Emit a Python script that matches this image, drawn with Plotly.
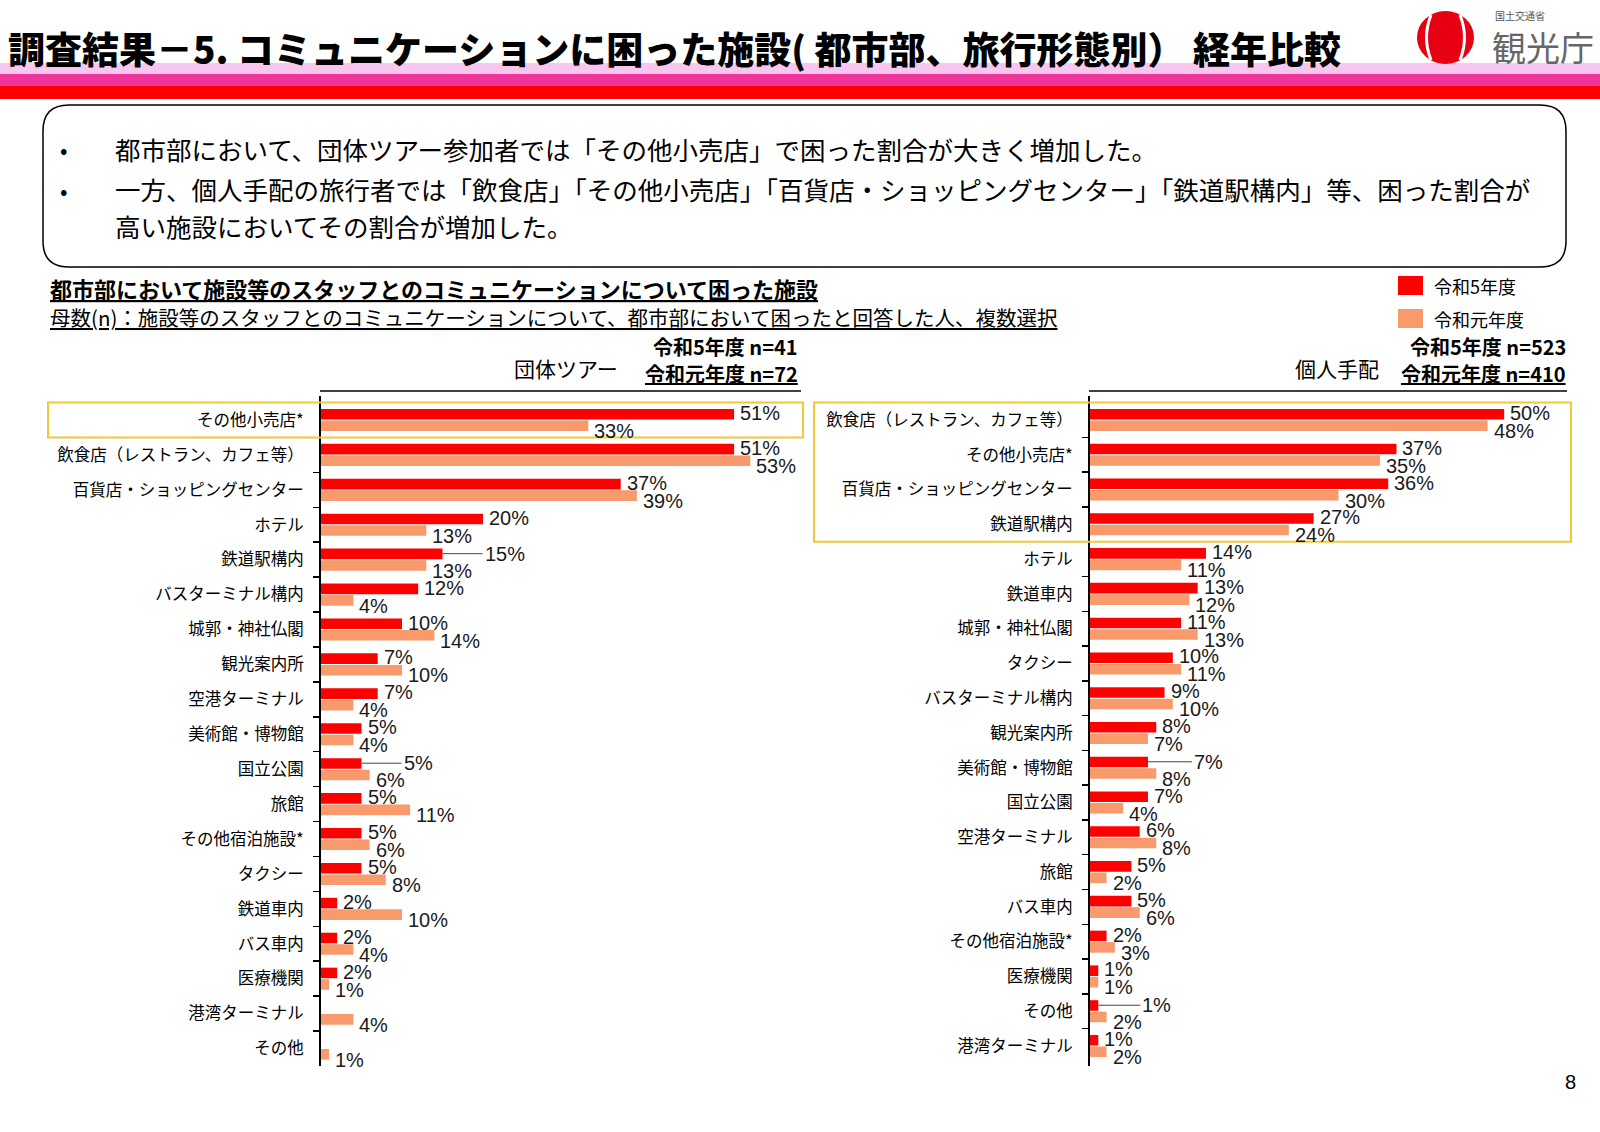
import plotly.graph_objects as go

W, H = 1600, 1132

# ---------------- data ----------------
series_names = ["令和5年度", "令和元年度"]

group_categories = [
    "その他小売店*", "飲食店（レストラン、カフェ等）", "百貨店・ショッピングセンター", "ホテル",
    "鉄道駅構内", "バスターミナル構内", "城郭・神社仏閣", "観光案内所", "空港ターミナル",
    "美術館・博物館", "国立公園", "旅館", "その他宿泊施設*", "タクシー", "鉄道車内",
    "バス車内", "医療機関", "港湾ターミナル", "その他",
]
group_r5 = [51, 51, 37, 20, 15, 12, 10, 7, 7, 5, 5, 5, 5, 5, 2, 2, 2, None, None]
group_r1 = [33, 53, 39, 13, 13, 4, 14, 10, 4, 4, 6, 11, 6, 8, 10, 4, 1, 4, 1]

indiv_categories = [
    "飲食店（レストラン、カフェ等）", "その他小売店*", "百貨店・ショッピングセンター", "鉄道駅構内",
    "ホテル", "鉄道車内", "城郭・神社仏閣", "タクシー", "バスターミナル構内", "観光案内所",
    "美術館・博物館", "国立公園", "空港ターミナル", "旅館", "バス車内", "その他宿泊施設*",
    "医療機関", "その他", "港湾ターミナル",
]
indiv_r5 = [50, 37, 36, 27, 14, 13, 11, 10, 9, 8, 7, 7, 6, 5, 5, 2, 1, 1, 1]
indiv_r1 = [48, 35, 30, 24, 11, 12, 13, 11, 10, 7, 8, 4, 8, 2, 6, 3, 1, 2, 2]

title_text = "調査結果－5. コミュニケーションに困った施設( 都市部、旅行形態別） 経年比較"
bullets = [
    "都市部において、団体ツアー参加者では「その他小売店」で困った割合が大きく増加した。",
    "一方、個人手配の旅行者では「飲食店」「その他小売店」「百貨店・ショッピングセンター」「鉄道駅構内」等、困った割合が",
    "高い施設においてその割合が増加した。",
]
chart_title = "都市部において施設等のスタッフとのコミュニケーションについて困った施設"
chart_subtitle = "母数(n)：施設等のスタッフとのコミュニケーションについて、都市部において困ったと回答した人、複数選択"
group_header = ("団体ツアー", "令和5年度 n=41", "令和元年度 n=72")
indiv_header = ("個人手配", "令和5年度 n=523", "令和元年度 n=410")

# ---------------- style ----------------
COLORS = ["#FF0000", "#F89A6B"]
JP = "Noto Sans CJK JP, sans-serif"
NUM = "Liberation Sans, Arial, sans-serif"
LABEL_YSHIFT = [7, -11]          # red label a bit up, orange label a bit down
# labels drawn with a leader line: (panel, series, category index) -> pixel offset
LEADERS = {("g", 0, 4): 40, ("g", 0, 10): 40, ("i", 0, 10): 44, ("i", 0, 17): 42}


def px(x):
    return x / W


def py(y):
    return 1 - y / H


fig = go.Figure()
panels = [
    ("g", group_categories, [group_r5, group_r1], "x", "y"),
    ("i", indiv_categories, [indiv_r5, indiv_r1], "x2", "y2"),
]
for key, cats, series, xa, ya in panels:
    for vals, name, color in zip(series, series_names, COLORS):
        fig.add_trace(go.Bar(
            y=cats, x=vals, orientation="h", name=name,
            marker=dict(color=color, line=dict(width=0)),
            xaxis=xa, yaxis=ya, showlegend=False, hoverinfo="skip",
        ))

yax = dict(
    type="category", autorange="reversed", showline=True, linecolor="black", linewidth=2,
    ticks="outside", tickson="boundaries", ticklen=6, tickwidth=1.5, tickcolor="black",
    tickfont=dict(family=JP, size=16.5, color="black"), ticklabelstandoff=12,
    showgrid=False, zeroline=False, fixedrange=True,
)

fig.update_layout(
    width=W, height=H, margin=dict(l=0, r=0, t=0, b=0),
    paper_bgcolor="white", plot_bgcolor="rgba(0,0,0,0)",
    barmode="group", bargap=0.34, bargroupgap=0.08,
    xaxis=dict(domain=[px(321), px(807)], range=[0, 60], visible=False, anchor="y", fixedrange=True),
    yaxis=dict(domain=[py(1066), py(396)], anchor="x", **yax),
    xaxis2=dict(domain=[px(1090), px(1587)], range=[0, 60], visible=False, anchor="y2", fixedrange=True),
    yaxis2=dict(domain=[py(1066), py(396)], anchor="x2", **yax),
)

shapes = []
# header bands
for y0, y1, c in [(63, 74, "#F8C6EE"), (74, 86, "#F0359A"), (86, 99, "#FF0000")]:
    shapes.append(dict(type="rect", xref="paper", yref="paper", x0=0, x1=1, y0=py(y1), y1=py(y0),
                       fillcolor=c, line=dict(width=0), layer="below"))


def rrect(x0, y0, x1, y1, r):
    pts = [
        ("M", [(x0 + r, y0)]), ("L", [(x1 - r, y0)]), ("Q", [(x1, y0), (x1, y0 + r)]),
        ("L", [(x1, y1 - r)]), ("Q", [(x1, y1), (x1 - r, y1)]), ("L", [(x0 + r, y1)]),
        ("Q", [(x0, y1), (x0, y1 - r)]), ("L", [(x0, y0 + r)]), ("Q", [(x0, y0), (x0 + r, y0)]),
    ]
    s = ""
    for cmd, ps in pts:
        s += cmd + " " + " ".join(f"{px(a):.5f},{py(b):.5f}" for a, b in ps) + " "
    return s + "Z"


shapes.append(dict(type="path", xref="paper", yref="paper", path=rrect(43, 105, 1566, 267, 26),
                   line=dict(color="black", width=1.5), fillcolor="rgba(0,0,0,0)"))

# lines above charts
shapes.append(dict(type="line", xref="paper", yref="paper", x0=px(320), x1=px(801), y0=py(391), y1=py(391),
                   line=dict(color="black", width=1.5)))
shapes.append(dict(type="line", xref="paper", yref="paper", x0=px(1089), x1=px(1567), y0=py(391), y1=py(391),
                   line=dict(color="black", width=1.5)))

# highlight boxes (category ranges)
shapes.append(dict(type="rect", xref="paper", yref="y", x0=px(48), x1=px(803), y0=-0.5, y1=0.5,
                   line=dict(color="#EFC93A", width=2), fillcolor="rgba(0,0,0,0)"))
shapes.append(dict(type="rect", xref="paper", yref="y2", x0=px(814), x1=px(1571), y0=-0.5, y1=3.5,
                   line=dict(color="#EFC93A", width=2), fillcolor="rgba(0,0,0,0)"))

# legend swatches
shapes.append(dict(type="rect", xref="paper", yref="paper", x0=px(1398), x1=px(1423), y0=py(295), y1=py(276),
                   fillcolor=COLORS[0], line=dict(width=0)))
shapes.append(dict(type="rect", xref="paper", yref="paper", x0=px(1398), x1=px(1423), y0=py(328), y1=py(309),
                   fillcolor=COLORS[1], line=dict(width=0)))

# logo
shapes.append(dict(type="circle", xref="paper", yref="paper", x0=px(1417), x1=px(1474), y0=py(64), y1=py(11),
                   fillcolor="#E60012", line=dict(width=0)))
for (xa_, xc) in [(1431, 1422), (1460, 1469)]:
    shapes.append(dict(type="path", xref="paper", yref="paper",
                       path=f"M {px(xa_):.5f},{py(15):.5f} Q {px(xc):.5f},{py(37.5):.5f} {px(xa_):.5f},{py(60):.5f}",
                       line=dict(color="white", width=3), fillcolor="rgba(0,0,0,0)"))

fig.update_layout(shapes=shapes)

ann = []

# value labels, placed through the axes' own scales
for key, cats, series, xa, ya in panels:
    for si, vals in enumerate(series):
        for ci, (cat, v) in enumerate(zip(cats, vals)):
            if v is None:
                continue
            common = dict(x=v, y=cat, xref=xa, yref=ya, text=f"{v}%",
                          font=dict(family=NUM, size=20, color="#1a1a1a"))
            lead = LEADERS.get((key, si, ci))
            if lead:
                ann.append(dict(**common, showarrow=True, arrowhead=0, arrowwidth=1,
                                arrowcolor="#444444", ax=lead, ay=0, xanchor="left",
                                yanchor="middle", yshift=6))
            else:
                ann.append(dict(**common, showarrow=False, xanchor="left", yanchor="middle",
                                xshift=4, yshift=LABEL_YSHIFT[si]))


def add(text, x, y, size, xanchor="left", family=JP, weight="normal", color="black"):
    ann.append(dict(text=text, x=px(x), y=py(y), xref="paper", yref="paper", xanchor=xanchor,
                    yanchor="middle", showarrow=False,
                    font=dict(family=family, size=size, color=color, weight=weight)))


add(title_text, 6, 48, 37, weight=900)
add("国土交通省", 1493, 16, 10, color="#555555")
add("観光庁", 1490, 47, 34, color="#666666")

add("•", 58, 148, 22)
add("•", 58, 189, 22)
add(bullets[0], 113, 148, 25.5)
add(bullets[1], 113, 189, 25.5)
add(bullets[2], 113, 226, 25.5)

add(f"<u>{chart_title}</u>", 48, 288, 22, weight="bold")
add(f"<u>{chart_subtitle}</u>", 48, 317, 20.5)

add(series_names[0], 1432, 286, 18)
add(series_names[1], 1432, 319, 18)

add(group_header[1], 800, 347, 20, xanchor="right", weight="bold")
add(group_header[0], 620, 368, 21, xanchor="right")
add(f"<u>{group_header[2]}</u>", 800, 373, 20, xanchor="right", weight="bold")

add(indiv_header[1], 1568, 347, 20, xanchor="right", weight="bold")
add(indiv_header[0], 1381, 368, 21, xanchor="right")
add(f"<u>{indiv_header[2]}</u>", 1568, 373, 20, xanchor="right", weight="bold")

add("8", 1578, 1082, 20, xanchor="right", family=NUM)

fig.update_layout(annotations=ann)

fig.write_html(
    "out.html",
    config={"displayModeBar": False, "staticPlot": True},
    post_script="document.body.style.margin='0';document.body.style.overflow='hidden';",
)
